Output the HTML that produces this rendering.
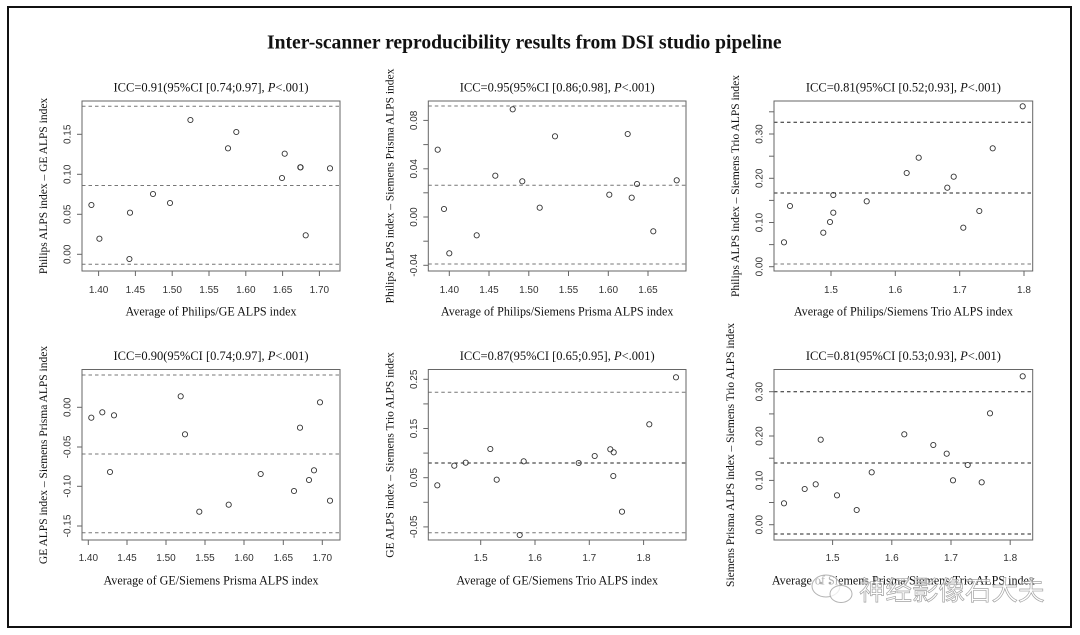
<!DOCTYPE html>
<html><head><meta charset="utf-8"><style>
html,body{margin:0;padding:0;background:#fff;}
svg{display:block;}
.t{font-family:"Liberation Serif",serif;fill:#111;}
.tk{font-family:"Liberation Sans",sans-serif;font-size:10px;fill:#333;}
.box{fill:none;stroke:#666;stroke-width:1;}
.ax{stroke:#666;stroke-width:1;}
.dg{stroke:#777;stroke-width:1;stroke-dasharray:3.5 3;}
.dk{stroke:#222;stroke-width:1;stroke-dasharray:3.5 3;}
.p{fill:none;stroke:#333;stroke-width:0.9;}
</style></head><body>
<svg width="1080" height="635" viewBox="0 0 1080 635" xmlns="http://www.w3.org/2000/svg">
<rect x="0" y="0" width="1080" height="635" fill="#fff"/>
<rect x="8" y="7" width="1063" height="620" fill="none" stroke="#111" stroke-width="2"/>
<text class="t" x="267" y="48.5" font-size="19.6" font-weight="bold">Inter-scanner reproducibility results from DSI studio pipeline</text>

<!-- Panel 1 -->
<g>
<text class="t" x="211" y="91.5" font-size="12.5" text-anchor="middle">ICC=0.91(95%CI [0.74;0.97], <tspan font-style="italic">P</tspan>&lt;.001)</text>
<line class="dg" x1="82" y1="106.3" x2="340" y2="106.3"/>
<line class="dg" x1="82" y1="185.5" x2="340" y2="185.5"/>
<line class="dg" x1="82" y1="264.3" x2="340" y2="264.3"/>
<rect class="box" x="82" y="101" width="258" height="170"/>
<g class="ax">
<line x1="77" y1="254.3" x2="82" y2="254.3"/><line x1="77" y1="214.3" x2="82" y2="214.3"/><line x1="77" y1="174.3" x2="82" y2="174.3"/><line x1="77" y1="134.3" x2="82" y2="134.3"/>
<line x1="98.6" y1="271" x2="98.6" y2="276"/><line x1="135.4" y1="271" x2="135.4" y2="276"/><line x1="172.2" y1="271" x2="172.2" y2="276"/><line x1="209" y1="271" x2="209" y2="276"/><line x1="245.8" y1="271" x2="245.8" y2="276"/><line x1="282.6" y1="271" x2="282.6" y2="276"/><line x1="319.4" y1="271" x2="319.4" y2="276"/>
</g>
<g class="tk" text-anchor="middle">
<text transform="translate(70.6,254.3) rotate(-90)">0.00</text>
<text transform="translate(70.6,214.3) rotate(-90)">0.05</text>
<text transform="translate(70.6,174.3) rotate(-90)">0.10</text>
<text transform="translate(70.6,134.3) rotate(-90)">0.15</text>
<text x="98.6" y="293">1.40</text><text x="135.4" y="293">1.45</text><text x="172.2" y="293">1.50</text><text x="209" y="293">1.55</text><text x="245.8" y="293">1.60</text><text x="282.6" y="293">1.65</text><text x="319.4" y="293">1.70</text>
</g>
<text class="t" font-size="11.5" text-anchor="middle" transform="translate(47,186) rotate(-90)">Philips ALPS index – GE ALPS index</text>
<text class="t" x="211" y="315.5" font-size="12.1" text-anchor="middle">Average of Philips/GE ALPS index</text>
<g class="p">
<circle cx="91.4" cy="205" r="2.6"/><circle cx="99.4" cy="238.7" r="2.6"/><circle cx="129.4" cy="259" r="2.6"/><circle cx="130" cy="212.7" r="2.6"/><circle cx="153" cy="194" r="2.6"/><circle cx="170" cy="203" r="2.6"/><circle cx="190.4" cy="120" r="2.6"/><circle cx="228" cy="148.3" r="2.6"/><circle cx="236.3" cy="132" r="2.6"/><circle cx="282" cy="178" r="2.6"/><circle cx="284.7" cy="153.7" r="2.6"/><circle cx="300.3" cy="167.3" r="2.6"/><circle cx="300.6" cy="167.3" r="2.6"/><circle cx="305.7" cy="235.3" r="2.6"/><circle cx="330" cy="168.3" r="2.6"/>
</g>
</g>

<!-- Panel 2 -->
<g>
<text class="t" x="557.2" y="91.5" font-size="12.5" text-anchor="middle">ICC=0.95(95%CI [0.86;0.98], <tspan font-style="italic">P</tspan>&lt;.001)</text>
<line class="dg" x1="428.3" y1="106" x2="686" y2="106"/>
<line class="dg" x1="428.3" y1="185.3" x2="686" y2="185.3"/>
<line class="dg" x1="428.3" y1="264" x2="686" y2="264"/>
<rect class="box" x="428.3" y="101" width="257.7" height="170"/>
<g class="ax">
<line x1="423.3" y1="120.4" x2="428.3" y2="120.4"/><line x1="423.3" y1="144.6" x2="428.3" y2="144.6"/><line x1="423.3" y1="168.8" x2="428.3" y2="168.8"/><line x1="423.3" y1="192.8" x2="428.3" y2="192.8"/><line x1="423.3" y1="217" x2="428.3" y2="217"/><line x1="423.3" y1="241.2" x2="428.3" y2="241.2"/><line x1="423.3" y1="265.3" x2="428.3" y2="265.3"/>
<line x1="449.3" y1="271" x2="449.3" y2="276"/><line x1="489" y1="271" x2="489" y2="276"/><line x1="528.8" y1="271" x2="528.8" y2="276"/><line x1="568.5" y1="271" x2="568.5" y2="276"/><line x1="608.3" y1="271" x2="608.3" y2="276"/><line x1="648" y1="271" x2="648" y2="276"/>
</g>
<g class="tk" text-anchor="middle">
<text transform="translate(416.9,120.4) rotate(-90)">0.08</text>
<text transform="translate(416.9,168.8) rotate(-90)">0.04</text>
<text transform="translate(416.9,217) rotate(-90)">0.00</text>
<text transform="translate(416.9,265.3) rotate(-90)">-0.04</text>
<text x="449.3" y="293">1.40</text><text x="489" y="293">1.45</text><text x="528.8" y="293">1.50</text><text x="568.5" y="293">1.55</text><text x="608.3" y="293">1.60</text><text x="648" y="293">1.65</text>
</g>
<text class="t" font-size="11.5" text-anchor="middle" transform="translate(393.3,186) rotate(-90)">Philips ALPS index – Siemens Prisma ALPS index</text>
<text class="t" x="557.2" y="315.5" font-size="12.1" text-anchor="middle">Average of Philips/Siemens Prisma ALPS index</text>
<g class="p">
<circle cx="437.7" cy="149.7" r="2.6"/><circle cx="444" cy="209" r="2.6"/><circle cx="449.3" cy="253.3" r="2.6"/><circle cx="476.7" cy="235.3" r="2.6"/><circle cx="495.3" cy="175.7" r="2.6"/><circle cx="512.7" cy="109.3" r="2.6"/><circle cx="522.3" cy="181.3" r="2.6"/><circle cx="539.7" cy="207.7" r="2.6"/><circle cx="555" cy="136.3" r="2.6"/><circle cx="609.3" cy="194.7" r="2.6"/><circle cx="627.7" cy="134" r="2.6"/><circle cx="631.7" cy="197.7" r="2.6"/><circle cx="637" cy="184" r="2.6"/><circle cx="653.3" cy="231.3" r="2.6"/><circle cx="676.7" cy="180.3" r="2.6"/>
</g>
</g>

<!-- Panel 3 -->
<g>
<text class="t" x="903.4" y="91.5" font-size="12.5" text-anchor="middle">ICC=0.81(95%CI [0.52;0.93], <tspan font-style="italic">P</tspan>&lt;.001)</text>
<line class="dk" x1="774" y1="122.3" x2="1032.7" y2="122.3"/>
<line class="dk" x1="774" y1="193" x2="1032.7" y2="193"/>
<line class="dg" x1="774" y1="264" x2="1032.7" y2="264"/>
<rect class="box" x="774" y="101" width="258.7" height="170"/>
<g class="ax">
<line x1="769" y1="266.7" x2="774" y2="266.7"/><line x1="769" y1="244.6" x2="774" y2="244.6"/><line x1="769" y1="222.5" x2="774" y2="222.5"/><line x1="769" y1="200.4" x2="774" y2="200.4"/><line x1="769" y1="178.3" x2="774" y2="178.3"/><line x1="769" y1="156.2" x2="774" y2="156.2"/><line x1="769" y1="134" x2="774" y2="134"/><line x1="769" y1="111.8" x2="774" y2="111.8"/>
<line x1="831" y1="271" x2="831" y2="276"/><line x1="895.3" y1="271" x2="895.3" y2="276"/><line x1="959.7" y1="271" x2="959.7" y2="276"/><line x1="1024" y1="271" x2="1024" y2="276"/>
</g>
<g class="tk" text-anchor="middle">
<text transform="translate(762.6,266.7) rotate(-90)">0.00</text>
<text transform="translate(762.6,222.5) rotate(-90)">0.10</text>
<text transform="translate(762.6,178.3) rotate(-90)">0.20</text>
<text transform="translate(762.6,134) rotate(-90)">0.30</text>
<text x="831" y="293">1.5</text><text x="895.3" y="293">1.6</text><text x="959.7" y="293">1.7</text><text x="1024" y="293">1.8</text>
</g>
<text class="t" font-size="11.5" text-anchor="middle" transform="translate(739,186) rotate(-90)">Philips ALPS index – Siemens Trio ALPS index</text>
<text class="t" x="903.4" y="315.5" font-size="12.1" text-anchor="middle">Average of Philips/Siemens Trio ALPS index</text>
<g class="p">
<circle cx="784" cy="242.3" r="2.6"/><circle cx="790" cy="206" r="2.6"/><circle cx="823.3" cy="232.7" r="2.6"/><circle cx="830" cy="222" r="2.6"/><circle cx="833.3" cy="212.7" r="2.6"/><circle cx="833.3" cy="195" r="2.6"/><circle cx="866.7" cy="201.3" r="2.6"/><circle cx="906.7" cy="173" r="2.6"/><circle cx="918.7" cy="157.7" r="2.6"/><circle cx="947.3" cy="187.7" r="2.6"/><circle cx="953.7" cy="176.7" r="2.6"/><circle cx="963.3" cy="227.7" r="2.6"/><circle cx="979.3" cy="211" r="2.6"/><circle cx="992.7" cy="148.3" r="2.6"/><circle cx="1022.7" cy="106.3" r="2.6"/>
</g>
</g>

<!-- Panel 4 -->
<g>
<text class="t" x="211" y="360" font-size="12.5" text-anchor="middle">ICC=0.90(95%CI [0.74;0.97], <tspan font-style="italic">P</tspan>&lt;.001)</text>
<line class="dg" x1="82" y1="375" x2="340" y2="375"/>
<line class="dg" x1="82" y1="454" x2="340" y2="454"/>
<line class="dg" x1="82" y1="532.7" x2="340" y2="532.7"/>
<rect class="box" x="82" y="369.5" width="258" height="170.5"/>
<g class="ax">
<line x1="77" y1="407.3" x2="82" y2="407.3"/><line x1="77" y1="447" x2="82" y2="447"/><line x1="77" y1="486.3" x2="82" y2="486.3"/><line x1="77" y1="526" x2="82" y2="526"/>
<line x1="88.3" y1="540" x2="88.3" y2="545"/><line x1="127" y1="540" x2="127" y2="545"/><line x1="166" y1="540" x2="166" y2="545"/><line x1="205" y1="540" x2="205" y2="545"/><line x1="244" y1="540" x2="244" y2="545"/><line x1="283.3" y1="540" x2="283.3" y2="545"/><line x1="322.3" y1="540" x2="322.3" y2="545"/>
</g>
<g class="tk" text-anchor="middle">
<text transform="translate(70.6,407.3) rotate(-90)">0.00</text>
<text transform="translate(70.6,447) rotate(-90)">-0.05</text>
<text transform="translate(70.6,486.3) rotate(-90)">-0.10</text>
<text transform="translate(70.6,526) rotate(-90)">-0.15</text>
<text x="88.3" y="561">1.40</text><text x="127" y="561">1.45</text><text x="166" y="561">1.50</text><text x="205" y="561">1.55</text><text x="244" y="561">1.60</text><text x="283.3" y="561">1.65</text><text x="322.3" y="561">1.70</text>
</g>
<text class="t" font-size="11.5" text-anchor="middle" transform="translate(47,455) rotate(-90)">GE ALPS index – Siemens Prisma ALPS index</text>
<text class="t" x="211" y="584.5" font-size="12.1" text-anchor="middle">Average of GE/Siemens Prisma ALPS index</text>
<g class="p">
<circle cx="91.3" cy="417.7" r="2.6"/><circle cx="102.3" cy="412.3" r="2.6"/><circle cx="114" cy="415.3" r="2.6"/><circle cx="110" cy="472" r="2.6"/><circle cx="180.7" cy="396.3" r="2.6"/><circle cx="185" cy="434.3" r="2.6"/><circle cx="199.3" cy="511.7" r="2.6"/><circle cx="228.7" cy="504.7" r="2.6"/><circle cx="260.7" cy="474" r="2.6"/><circle cx="294" cy="491" r="2.6"/><circle cx="300" cy="427.7" r="2.6"/><circle cx="309" cy="480" r="2.6"/><circle cx="314" cy="470.3" r="2.6"/><circle cx="320" cy="402.3" r="2.6"/><circle cx="330" cy="500.7" r="2.6"/>
</g>
</g>

<!-- Panel 5 -->
<g>
<text class="t" x="557.2" y="360" font-size="12.5" text-anchor="middle">ICC=0.87(95%CI [0.65;0.95], <tspan font-style="italic">P</tspan>&lt;.001)</text>
<line class="dg" x1="428.3" y1="392.3" x2="686" y2="392.3"/>
<line class="dk" x1="428.3" y1="463" x2="686" y2="463"/>
<line class="dg" x1="428.3" y1="532.7" x2="686" y2="532.7"/>
<rect class="box" x="428.3" y="369.5" width="257.7" height="170.5"/>
<g class="ax">
<line x1="423.3" y1="526.9" x2="428.3" y2="526.9"/><line x1="423.3" y1="502.3" x2="428.3" y2="502.3"/><line x1="423.3" y1="477.7" x2="428.3" y2="477.7"/><line x1="423.3" y1="453.1" x2="428.3" y2="453.1"/><line x1="423.3" y1="428.5" x2="428.3" y2="428.5"/><line x1="423.3" y1="403.9" x2="428.3" y2="403.9"/><line x1="423.3" y1="379.3" x2="428.3" y2="379.3"/>
<line x1="480.7" y1="540" x2="480.7" y2="545"/><line x1="535" y1="540" x2="535" y2="545"/><line x1="589.3" y1="540" x2="589.3" y2="545"/><line x1="643.6" y1="540" x2="643.6" y2="545"/>
</g>
<g class="tk" text-anchor="middle">
<text transform="translate(416.9,526.9) rotate(-90)">-0.05</text>
<text transform="translate(416.9,477.7) rotate(-90)">0.05</text>
<text transform="translate(416.9,428.5) rotate(-90)">0.15</text>
<text transform="translate(416.9,379.3) rotate(-90)">0.25</text>
<text x="480.7" y="561">1.5</text><text x="535" y="561">1.6</text><text x="589.3" y="561">1.7</text><text x="643.6" y="561">1.8</text>
</g>
<text class="t" font-size="11.5" text-anchor="middle" transform="translate(393.3,455) rotate(-90)">GE ALPS index – Siemens Trio ALPS index</text>
<text class="t" x="557.2" y="584.5" font-size="12.1" text-anchor="middle">Average of GE/Siemens Trio ALPS index</text>
<g class="p">
<circle cx="437.3" cy="485.3" r="2.6"/><circle cx="454.3" cy="465.7" r="2.6"/><circle cx="465.7" cy="462.7" r="2.6"/><circle cx="490.3" cy="449" r="2.6"/><circle cx="496.7" cy="479.7" r="2.6"/><circle cx="519.7" cy="535" r="2.6"/><circle cx="523.7" cy="461.3" r="2.6"/><circle cx="578.7" cy="463" r="2.6"/><circle cx="594.7" cy="456" r="2.6"/><circle cx="610.3" cy="449.3" r="2.6"/><circle cx="613.7" cy="452.3" r="2.6"/><circle cx="613.3" cy="476" r="2.6"/><circle cx="622" cy="511.7" r="2.6"/><circle cx="649.3" cy="424.3" r="2.6"/><circle cx="676" cy="377.3" r="2.6"/>
</g>
</g>

<!-- Panel 6 -->
<g>
<text class="t" x="903.4" y="360" font-size="12.5" text-anchor="middle">ICC=0.81(95%CI [0.53;0.93], <tspan font-style="italic">P</tspan>&lt;.001)</text>
<line class="dk" x1="774" y1="391.7" x2="1032.7" y2="391.7"/>
<line class="dk" x1="774" y1="463" x2="1032.7" y2="463"/>
<line class="dk" x1="774" y1="534" x2="1032.7" y2="534"/>
<rect class="box" x="774" y="369.5" width="258.7" height="170.5"/>
<g class="ax">
<line x1="769" y1="524.7" x2="774" y2="524.7"/><line x1="769" y1="502.5" x2="774" y2="502.5"/><line x1="769" y1="480.4" x2="774" y2="480.4"/><line x1="769" y1="458.2" x2="774" y2="458.2"/><line x1="769" y1="436" x2="774" y2="436"/><line x1="769" y1="413.9" x2="774" y2="413.9"/><line x1="769" y1="391.7" x2="774" y2="391.7"/>
<line x1="832.6" y1="540" x2="832.6" y2="545"/><line x1="891.8" y1="540" x2="891.8" y2="545"/><line x1="951" y1="540" x2="951" y2="545"/><line x1="1010.2" y1="540" x2="1010.2" y2="545"/>
</g>
<g class="tk" text-anchor="middle">
<text transform="translate(762.6,524.7) rotate(-90)">0.00</text>
<text transform="translate(762.6,480.4) rotate(-90)">0.10</text>
<text transform="translate(762.6,436) rotate(-90)">0.20</text>
<text transform="translate(762.6,391.7) rotate(-90)">0.30</text>
<text x="832.6" y="561">1.5</text><text x="891.8" y="561">1.6</text><text x="951" y="561">1.7</text><text x="1010.2" y="561">1.8</text>
</g>
<text class="t" font-size="11.5" text-anchor="middle" transform="translate(734,455) rotate(-90)">Siemens Prisma ALPS index – Siemens Trio ALPS index</text>
<text class="t" x="903.4" y="584.5" font-size="12.1" text-anchor="middle">Average of Siemens Prisma/Siemens Trio ALPS index</text>
<g class="p">
<circle cx="784" cy="503.3" r="2.6"/><circle cx="804.7" cy="489" r="2.6"/><circle cx="815.7" cy="484.3" r="2.6"/><circle cx="820.7" cy="439.7" r="2.6"/><circle cx="837" cy="495.3" r="2.6"/><circle cx="856.7" cy="510" r="2.6"/><circle cx="871.7" cy="472.3" r="2.6"/><circle cx="904.3" cy="434.3" r="2.6"/><circle cx="933.3" cy="445" r="2.6"/><circle cx="946.7" cy="453.7" r="2.6"/><circle cx="953" cy="480.3" r="2.6"/><circle cx="967.7" cy="465" r="2.6"/><circle cx="981.7" cy="482.3" r="2.6"/><circle cx="990" cy="413.3" r="2.6"/><circle cx="1022.7" cy="376.3" r="2.6"/>
</g>
</g>

<!-- watermark -->
<g opacity="0.9">
<ellipse cx="826" cy="586" rx="14" ry="11" fill="#fff" fill-opacity="0.75" stroke="#aaa" stroke-width="1"/>
<ellipse cx="841" cy="594" rx="11" ry="8.5" fill="#fff" fill-opacity="0.75" stroke="#aaa" stroke-width="1"/>
<circle cx="821" cy="583" r="1.3" fill="#aaa"/><circle cx="830" cy="583" r="1.3" fill="#aaa"/>
<text x="859" y="600" font-size="26.5" font-family="'Liberation Sans','Noto Sans CJK SC',sans-serif" fill="#fff" fill-opacity="0.7" stroke="#999" stroke-width="0.7">神经影像石大夫</text>
</g>
</svg>
</body></html>
